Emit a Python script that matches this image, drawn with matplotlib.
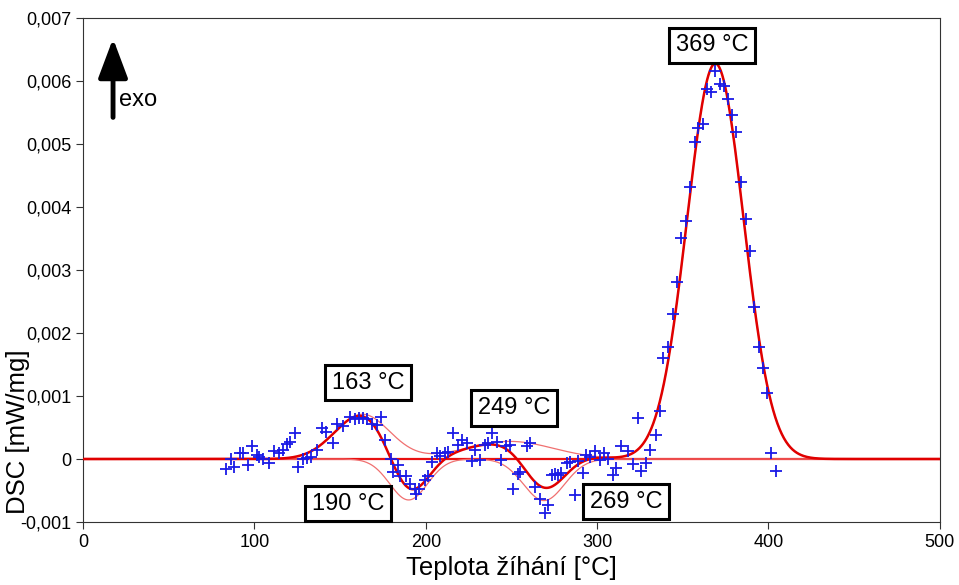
import numpy as np
import matplotlib.pyplot as plt
from matplotlib.ticker import FuncFormatter

plt.rcParams['font.family'] = ['Liberation Sans', 'DejaVu Sans']

# -------------------------------
# Naměřená data (DSC, mW/mg)
# -------------------------------
teplota = [83.4, 86.2, 88.3, 91.6, 93.2, 96.1, 98.4, 101.3, 102.9, 105.2,
           108.5, 111.4, 114.5, 116.9, 119.2, 120.8, 123.7, 125.6, 128.5, 130.5,
           133.0, 136.3, 139.2, 141.8, 145.7, 148.0, 151.9, 155.8, 158.7, 161.0,
           163.5, 165.5, 168.4, 171.3, 173.6, 176.2, 179.7, 181.0, 183.9, 184.9,
           188.4, 190.8, 193.7, 194.3, 196.2, 199.5, 201.5, 203.4, 206.3, 208.3,
           211.2, 213.1, 216.0, 218.9, 220.9, 223.8, 226.7, 228.7, 231.6, 234.5,
           236.5, 238.8, 241.3, 244.2, 247.1, 249.1, 251.0, 253.9, 255.0, 258.8,
           260.8, 263.7, 266.6, 269.5, 271.5, 273.4, 275.3, 277.3, 279.2, 282.2,
           284.1, 287.0, 288.9, 291.9, 293.8, 295.8, 298.7, 301.6, 304.0, 306.4,
           309.4, 311.3, 314.2, 318.1, 321.0, 323.9, 325.9, 328.8, 331.1, 334.3,
           336.6, 338.5, 341.5, 344.4, 346.7, 348.8, 351.8, 354.1, 357.0, 359.0,
           361.9, 364.2, 366.3, 368.7, 371.6, 374.1, 376.4, 379.0, 381.3, 383.9,
           386.6, 389.5, 391.4, 394.3, 396.8, 399.4, 401.7, 404.3]

dsc = [-0.16, 0.00, -0.12, 0.09, 0.09, -0.10, 0.20, 0.07, 0.03, 0.00,
       -0.06, 0.12, 0.09, 0.15, 0.24, 0.27, 0.41, -0.13, 0.00, 0.01,
       0.03, 0.14, 0.50, 0.43, 0.26, 0.56, 0.52, 0.67, 0.63, 0.65,
       0.65, 0.63, 0.56, 0.54, 0.66, 0.30, 0.00, -0.20, -0.10, -0.27,
       -0.27, -0.40, -0.47, -0.55, -0.47, -0.33, -0.27, -0.04, 0.09, 0.04,
       0.09, 0.11, 0.42, 0.22, 0.30, 0.26, -0.03, 0.15, -0.02, 0.22,
       0.26, 0.41, 0.27, -0.02, 0.20, 0.23, -0.48, -0.24, -0.20, 0.21,
       0.25, -0.45, -0.64, -0.86, -0.73, -0.25, -0.24, -0.25, -0.22, -0.07,
       -0.04, -0.57, -0.03, -0.22, 0.06, 0.03, 0.12, -0.02, 0.10, 0.00,
       -0.25, -0.15, 0.21, 0.12, -0.08, 0.65, -0.19, -0.07, 0.14, 0.38,
       0.77, 1.60, 1.78, 2.31, 2.81, 3.51, 3.78, 4.32, 5.03, 5.25,
       5.32, 5.87, 5.83, 6.16, 5.96, 5.93, 5.71, 5.46, 5.20, 4.40,
       3.81, 3.30, 2.42, 1.78, 1.44, 1.05, 0.10, -0.19]
dsc = np.array(dsc) * 1e-3

# -------------------------------
# Parametry fitovaných píků (Gauss)
# -------------------------------
pik_stred = [163, 190, 249, 269, 369]
pik_vyska = [0.00071, -0.00065, 0.00028, -0.00066, 0.00628]
pik_sirka = [16, 11, 25.5, 12, 16.5]

popisky = ['163 °C', '190 °C', '249 °C', '269 °C', '369 °C']
popisky_pozice = [(166.5, 0.00121), (154.6, -0.00071), (251.5, 0.00081),
                  (317, -0.00068), (367, 0.00657)]


def gauss(t, stred, vyska, sirka):
    return vyska * np.exp(-(t - stred) ** 2 / (2 * sirka ** 2))


t = np.linspace(0, 500, 2001)
komponenty = [gauss(t, c, h, s) for c, h, s in zip(pik_stred, pik_vyska, pik_sirka)]
kladne = komponenty[0] + komponenty[2] + komponenty[4]
zaporne = komponenty[1] + komponenty[3]
celkem = kladne + zaporne

# -------------------------------
# Graf
# -------------------------------
fig = plt.figure(figsize=(9.59, 5.85), dpi=100)
ax = fig.add_axes([0.0866, 0.1077, 0.8934, 0.8613])

ax.axhline(0, color='#e81010', lw=1.6, zorder=2)
ax.plot(t, kladne, color='#f07070', lw=0.9, zorder=2)
ax.plot(t, zaporne, color='#f07070', lw=0.9, zorder=2)
ax.plot(t, celkem, color='#e00000', lw=1.8, zorder=3)
ax.plot(teplota, dsc, '+', color='#1a1ae6', ms=9, mew=1.3, zorder=4)

for text, (x, y) in zip(popisky, popisky_pozice):
    ax.text(x, y, text, fontsize=17, ha='center', va='center', zorder=5,
            bbox=dict(boxstyle='square,pad=0.28', fc='white', ec='black', lw=2.2))

# šipka exo
ax.annotate('', xy=(17.5, 0.00672), xytext=(17.5, 0.00538),
            arrowprops=dict(arrowstyle='-|>,head_width=0.9,head_length=2.4',
                            color='black', lw=3.5))
ax.text(21.0, 0.0057, 'exo', fontsize=17, ha='left', va='center')

ax.set_xlim(0, 500)
ax.set_ylim(-0.001, 0.007)
ax.set_xticks(range(0, 501, 100))
ax.set_yticks(np.arange(-0.001, 0.0071, 0.001))
ax.yaxis.set_major_formatter(FuncFormatter(
    lambda v, p: '0' if abs(v) < 1e-9 else f'{v:.3f}'.replace('.', ',')))
ax.tick_params(labelsize=13, length=5, direction='out', color='#333333')
for s in ax.spines.values():
    s.set_color('#333333')

ax.set_xlabel('Teplota žíhání [°C]', fontsize=18.5, labelpad=4)
ax.set_ylabel('DSC [mW/mg]', fontsize=18.5)
ax.yaxis.set_label_coords(-0.062, 0.18)

fig.savefig('out.png', dpi=100)
